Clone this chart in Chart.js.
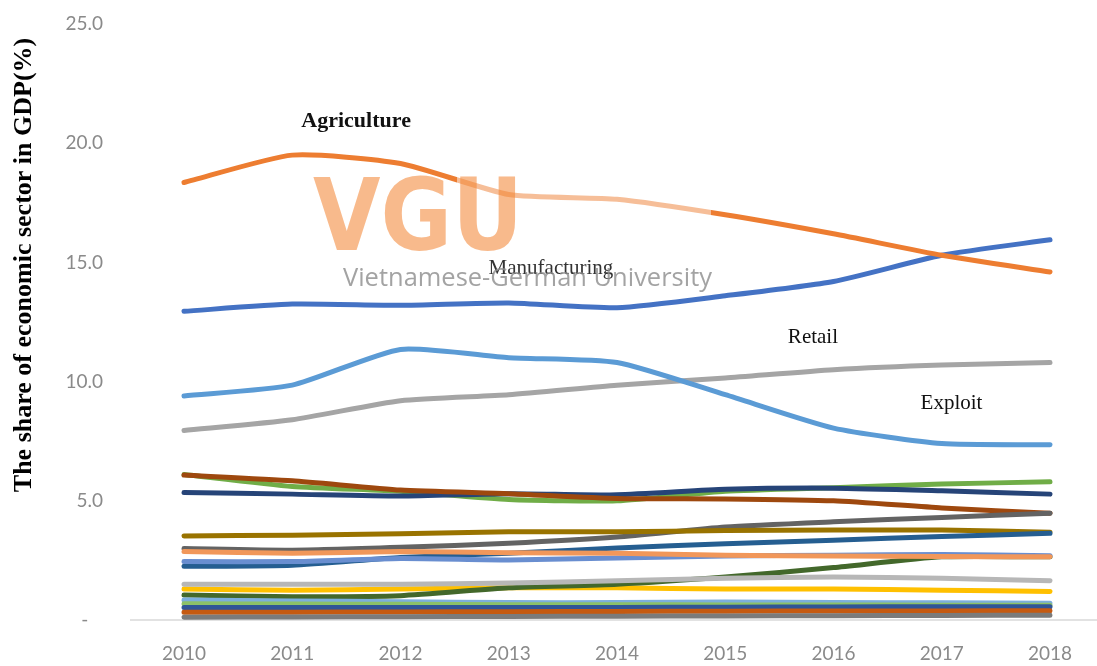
<!DOCTYPE html>
<html>
<head>
<meta charset="utf-8">
<script src="https://cdn.jsdelivr.net/npm/chart.js@4/dist/chart.umd.min.js"></script>
<style>
  html, body { margin: 0; padding: 0; background: #fff; }
  #wrap { width: 1097px; height: 666px; position: relative; }
</style>
</head>
<body>
<div id="wrap"><canvas id="c"></canvas></div>
<script>
// years on the x axis
var years = [2010, 2011, 2012, 2013, 2014, 2015, 2016, 2017, 2018];
var yTicks = [0, 5, 10, 15, 20, 25];

// share of each sector in GDP (%)
var manufacturing = [12.95, 13.25, 13.2, 13.3, 13.1, 13.6, 14.2, 15.3, 15.95];
var agriculture   = [18.35, 19.5, 19.15, 17.85, 17.65, 17.0, 16.2, 15.3, 14.6];
var retail        = [7.95, 8.4, 9.2, 9.45, 9.85, 10.15, 10.5, 10.7, 10.8];
var sector4       = [1.3, 1.25, 1.3, 1.35, 1.35, 1.3, 1.3, 1.25, 1.2];
var exploit       = [9.4, 9.85, 11.35, 11.0, 10.8, 9.45, 8.05, 7.4, 7.35];
var sector6       = [6.1, 5.6, 5.4, 5.05, 5.0, 5.4, 5.55, 5.7, 5.8];
var sector7       = [5.35, 5.28, 5.2, 5.3, 5.25, 5.48, 5.53, 5.42, 5.28];
var sector8       = [6.08, 5.84, 5.45, 5.3, 5.1, 5.08, 5.0, 4.7, 4.48];
var sector9       = [3.0, 2.93, 3.05, 3.22, 3.48, 3.9, 4.12, 4.3, 4.48];
var sector10      = [3.52, 3.56, 3.62, 3.7, 3.7, 3.75, 3.77, 3.77, 3.68];
var sector11      = [2.25, 2.3, 2.62, 2.8, 3.02, 3.2, 3.35, 3.5, 3.64];
var sector12      = [1.05, 0.98, 1.02, 1.35, 1.5, 1.8, 2.2, 2.65, 2.65];
var sector13      = [2.45, 2.45, 2.58, 2.52, 2.6, 2.68, 2.72, 2.75, 2.7];
var sector14      = [2.87, 2.8, 2.87, 2.82, 2.8, 2.72, 2.68, 2.66, 2.65];
var sector15      = [1.5, 1.5, 1.5, 1.55, 1.65, 1.75, 1.8, 1.75, 1.65];
var sector16      = [0.84, 0.8, 0.77, 0.73, 0.73, 0.75, 0.73, 0.72, 0.7];
var sector17      = [0.68, 0.67, 0.66, 0.64, 0.64, 0.63, 0.63, 0.62, 0.62];
var sector18      = [0.52, 0.52, 0.52, 0.52, 0.52, 0.54, 0.55, 0.56, 0.56];
var sector19      = [0.33, 0.33, 0.34, 0.35, 0.36, 0.37, 0.38, 0.38, 0.39];
var sector20      = [0.12, 0.13, 0.14, 0.15, 0.16, 0.17, 0.18, 0.19, 0.2];

var seriesNames = ['Manufacturing', 'Agriculture', 'Retail', 'Sector 4', 'Exploit',
  'Sector 6', 'Sector 7', 'Sector 8', 'Sector 9', 'Sector 10', 'Sector 11', 'Sector 12',
  'Sector 13', 'Sector 14', 'Sector 15', 'Sector 16', 'Sector 17', 'Sector 18',
  'Sector 19', 'Sector 20'];
var seriesValues = [manufacturing, agriculture, retail, sector4, exploit,
  sector6, sector7, sector8, sector9, sector10, sector11, sector12,
  sector13, sector14, sector15, sector16, sector17, sector18, sector19, sector20];
var seriesColors = ['#4472C4', '#ED7D31', '#A5A5A5', '#FFC000', '#5B9BD5',
  '#70AD47', '#264478', '#9E480E', '#636363', '#997300', '#255E91', '#43682B',
  '#698ED0', '#F1975A', '#B7B7B7', '#7CAFDD', '#8CC168', '#2F5597',
  '#C55A11', '#7B7B7B'];

// text placed on the plot
var noteTexts = ['Agriculture', 'Manufacturing', 'Retail', 'Exploit'];
var yTitle = 'The share of economic sector in GDP(%)';

var datasets = seriesValues.map(function(vals, i) {
  return {
    label: seriesNames[i],
    data: vals.map(function(v, j) { return { x: years[j], y: v }; }),
    borderColor: seriesColors[i],
    backgroundColor: seriesColors[i],
    borderWidth: 5,
    borderCapStyle: 'round',
    borderJoinStyle: 'round',
    pointRadius: 0,
    tension: 0.2,
    order: seriesValues.length - i
  };
});

// where the notes sit, in year / value units
var notePos = [[2011.59, 20.92], [2013.39, 14.76], [2015.81, 11.87], [2017.09, 9.1]];
var noteFonts = ['bold 22px "Liberation Serif"', '21px "Liberation Serif"',
  '21px "Liberation Serif"', '21px "Liberation Serif"'];

var overlay = {
  id: 'overlay',
  beforeDatasetsDraw: function(chart) {
    // category axis line, starting a little right of the value labels
    var ctx = chart.ctx, a = chart.chartArea;
    ctx.save();
    ctx.strokeStyle = '#d9d9d9';
    ctx.lineWidth = 1.5;
    ctx.beginPath();
    ctx.moveTo(130, a.bottom);
    ctx.lineTo(a.right, a.bottom);
    ctx.stroke();
    ctx.restore();
  },
  afterDatasetsDraw: function(chart) {
    var ctx = chart.ctx;
    var sx = chart.scales.x, sy = chart.scales.y;
    ctx.save();
    // watermark band fades the lines under it
    ctx.fillStyle = 'rgba(255,255,255,0.5)';
    ctx.fillRect(457, 140, 254, 120);

    // VGU logo
    ctx.font = 'bold 100px "DejaVu Sans"';
    ctx.textBaseline = 'alphabetic';
    ctx.textAlign = 'left';
    var w = ctx.measureText('VGU').width;
    ctx.save();
    ctx.translate(313, 250);
    ctx.scale(210 / w, 1);
    ctx.fillStyle = 'rgba(243,130,45,0.55)';
    ctx.fillText('VGU', 0, 0);
    ctx.restore();

    // sector notes
    ctx.textAlign = 'center';
    ctx.textBaseline = 'middle';
    noteTexts.forEach(function(t, i) {
      ctx.font = noteFonts[i];
      ctx.fillStyle = i === 1 ? '#333' : '#111';
      ctx.fillText(t, sx.getPixelForValue(notePos[i][0]), sy.getPixelForValue(notePos[i][1]));
    });

    // watermark caption
    ctx.font = '25px "Open Sans"';
    ctx.textAlign = 'left';
    ctx.textBaseline = 'alphabetic';
    var cap = 'Vietnamese-German University';
    var cw = ctx.measureText(cap).width;
    ctx.translate(343, 286);
    ctx.scale(369 / cw, 1);
    ctx.fillStyle = 'rgba(140,140,140,0.8)';
    ctx.fillText(cap, 0, 0);
    ctx.restore();
  },
  afterDraw: function(chart) {
    var ctx = chart.ctx;
    ctx.save();
    ctx.translate(24, 265);
    ctx.rotate(-Math.PI / 2);
    ctx.font = 'bold 26px "Liberation Serif"';
    ctx.fillStyle = '#000';
    ctx.textAlign = 'center';
    ctx.textBaseline = 'middle';
    ctx.fillText(yTitle, 0, 0);
    ctx.restore();
  }
};

new Chart(document.getElementById('c'), {
  type: 'line',
  data: { datasets: datasets },
  plugins: [overlay],
  options: {
    responsive: true,
    maintainAspectRatio: false,
    animation: false,
    layout: { padding: { top: 24, right: 0, bottom: 0, left: 0 } },
    plugins: { legend: { display: false }, tooltip: { enabled: false } },
    scales: {
      x: {
        type: 'linear',
        min: 2009.3626,
        max: 2018.434,
        afterBuildTicks: function(scale) {
          scale.ticks = years.map(function(v) { return { value: v }; });
        },
        afterFit: function(scale) { scale.height = 46; },
        grid: { display: false, drawTicks: false },
        border: { display: false },
        ticks: {
          padding: 22,
          color: '#8a8a8a',
          font: { family: 'Lato', size: 19 },
          maxRotation: 0,
          autoSkip: false,
          callback: function(v) { return String(v); }
        }
      },
      y: {
        min: 0,
        max: 25,
        afterBuildTicks: function(scale) {
          scale.ticks = yTicks.map(function(v) { return { value: v }; });
        },
        afterFit: function(scale) { scale.width = 115; },
        grid: { display: false, drawTicks: false },
        border: { display: false },
        ticks: {
          padding: 12,
          color: '#8a8a8a',
          font: { family: 'Lato', size: 19 },
          callback: function(v) { return v === 0 ? '-   ' : v.toFixed(1); }
        }
      }
    }
  }
});
</script>
</body>
</html>
